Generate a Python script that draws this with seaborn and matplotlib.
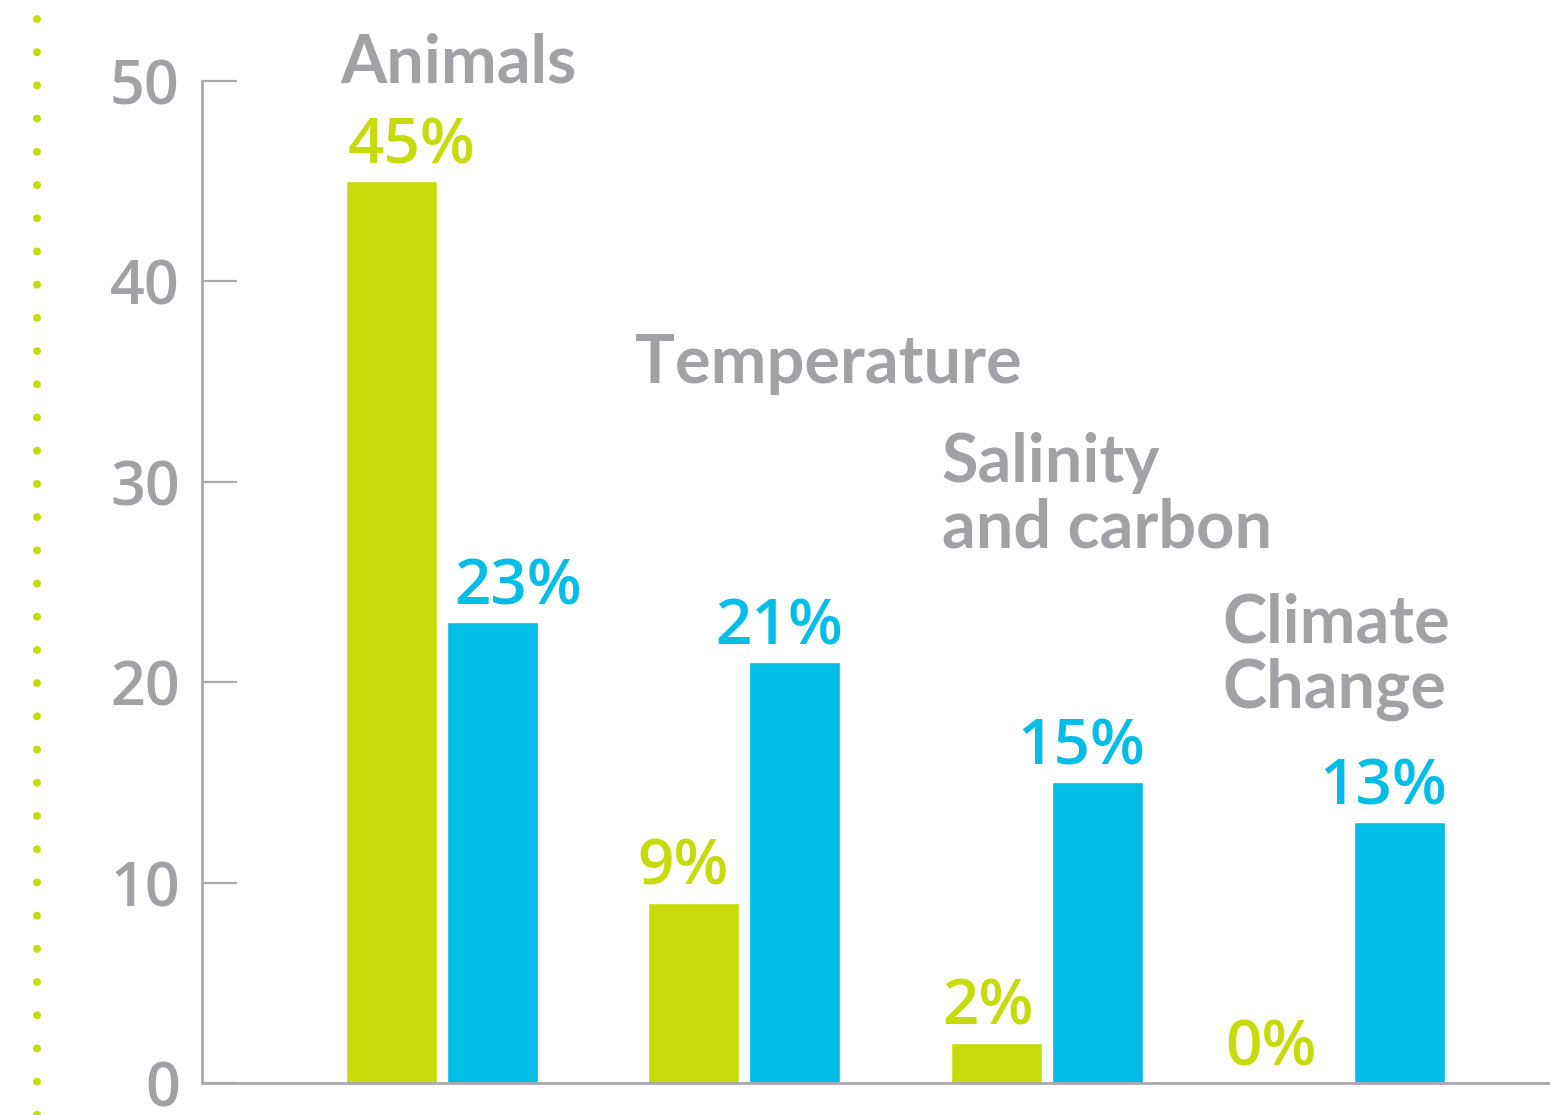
import matplotlib
matplotlib.use("Agg")
import matplotlib.pyplot as plt
from matplotlib.lines import Line2D
import seaborn as sns
import pandas as pd

# ---- data ----
categories = ["Animals", "Temperature", "Salinity\nand carbon", "Climate\nChange"]
group_names = ["group_a", "group_b"]
green_values = [45, 9, 2, 0]
blue_values = [23, 21, 15, 13]
y_ticks = [0, 10, 20, 30, 40, 50]

# ---- style ----
GREEN = "#c5dc0a"
BLUE = "#02bde5"
GREY = "#a2a2a6"
AXIS_GREY = "#a9a9ad"
FONT = ["Open Sans", "DejaVu Sans"]
TITLE_FONT = ["Lato", "Open Sans", "DejaVu Sans"]

sns.set_theme(style="white")
plt.rcParams["font.family"] = FONT

W, H, DPI = 1550, 1115, 100
fig = plt.figure(figsize=(W / DPI, H / DPI), dpi=DPI)
ax = fig.add_axes([202 / W, 32 / H, (W - 202) / W, 1002 / H])

df = pd.DataFrame({
    "category": categories * 2,
    "group": [group_names[0]] * 4 + [group_names[1]] * 4,
    "value": green_values + blue_values,
})

sns.barplot(data=df, x="category", y="value", hue="group",
            palette=[GREEN, BLUE], width=0.668, gap=0.1, saturation=1,
            legend=False, errorbar=None, ax=ax)

ax.set_ylim(0, 50)
ax.set_xlim(-0.793, 3.663)
ax.set_yticks(y_ticks)
ax.set_yticklabels([str(t) for t in y_ticks])
ax.set_xticks([])
ax.set_xlabel("")
ax.set_ylabel("")

for side in ("top", "right"):
    ax.spines[side].set_visible(False)
for side in ("left", "bottom"):
    ax.spines[side].set_color(AXIS_GREY)
    ax.spines[side].set_linewidth(2.0)

ax.tick_params(axis="y", left=True, direction="in", length=25, width=1.6,
               color=AXIS_GREY, pad=16, labelsize=44, labelcolor=GREY)
for lbl in ax.get_yticklabels():
    lbl.set_fontweight("semibold")

# value labels above each bar (pixel nudges per label)
nudges = [[20, -11, -8, -28], [26, -16, -16, -17]]
colors = [GREEN, BLUE]
for gi, container in enumerate(ax.containers):
    for bi, bar in enumerate(container):
        xc = bar.get_x() + bar.get_width() / 2
        val = bar.get_height()
        ax.annotate(f"{val:.0f}%", xy=(xc, val),
                    xytext=(nudges[gi][bi] * 0.72, 18 * 0.72),
                    textcoords="offset points", ha="center", va="baseline",
                    fontsize=46, color=colors[gi], fontweight="semibold",
                    annotation_clip=False)

# category titles (y is the baseline of the last line)
title_pos = [(-0.337, 49.95), (-0.362, 34.93), (-0.347, 26.7), (-0.421, 18.71)]
for i, (name, (dx, yv)) in enumerate(zip(categories, title_pos)):
    ax.text(i + dx, yv, name, ha="left", va="baseline", fontsize=48,
            family=TITLE_FONT, fontweight="bold", color=GREY,
            linespacing=1.08, clip_on=False)

# dotted rule down the left edge
dot_px = 8
fig.add_artist(Line2D([37 / W, 37 / W], [1 - 19 / H, -0.01],
                      transform=fig.transFigure, color=GREEN,
                      linewidth=dot_px * 0.72, dash_capstyle="round",
                      dashes=(0.001, 33.2 / dot_px)))

fig.savefig("out.png", dpi=DPI, facecolor="white")
